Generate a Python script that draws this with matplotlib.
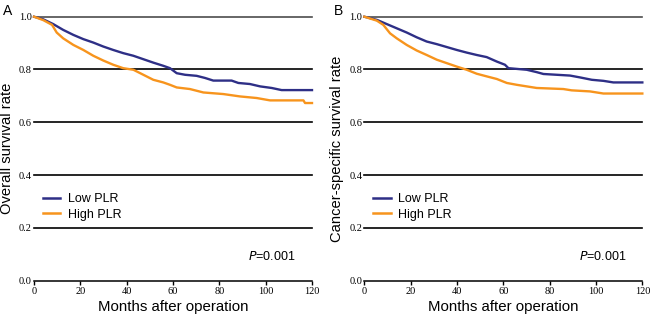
import numpy as np
import matplotlib
matplotlib.use('Agg')
import matplotlib.pyplot as plt

# ---- data (KM curves, months vs survival) ----
A_LOW_T = [0, 4.0, 8.3, 12.6, 17.0, 21.3, 25.6, 29.9, 34.2, 38.5, 42.9, 47.2, 51.5, 55.8,
           58.7, 61.6, 65.2, 70.2, 73.8, 77.4, 85.3, 88.2, 93.2, 97.6, 102.6, 106.9, 120]
A_LOW_S = [1.0, 0.99, 0.972, 0.95, 0.931, 0.915, 0.902, 0.887, 0.874, 0.862, 0.852, 0.839, 0.826, 0.814,
           0.805, 0.786, 0.78, 0.776, 0.768, 0.758, 0.758, 0.749, 0.745, 0.736, 0.73, 0.722, 0.722]
A_HIGH_T = [0, 4.0, 7.8, 9.8, 12.6, 17.0, 21.3, 25.6, 29.9, 34.2, 38.5, 42.9, 47.2, 51.5, 55.8,
            58.7, 61.6, 67.3, 73.1, 81.7, 88.9, 96.1, 101.9, 116.3, 117.0, 120]
A_HIGH_S = [1.0, 0.987, 0.969, 0.94, 0.918, 0.893, 0.874, 0.852, 0.834, 0.818, 0.805, 0.799, 0.78, 0.761, 0.751,
            0.742, 0.732, 0.726, 0.713, 0.707, 0.698, 0.692, 0.683, 0.683, 0.673, 0.673]

B_LOW_T = [0, 5.4, 9.7, 14.0, 18.3, 22.6, 26.9, 31.3, 35.6, 39.9, 44.2, 48.5, 52.8, 57.2,
           60.7, 62.2, 70.1, 74.4, 77.3, 88.8, 93.1, 98.2, 103.2, 107.5, 120]
B_LOW_S = [1.0, 0.988, 0.972, 0.956, 0.94, 0.922, 0.906, 0.896, 0.885, 0.874, 0.864, 0.855, 0.847, 0.83,
           0.818, 0.805, 0.799, 0.79, 0.783, 0.777, 0.77, 0.761, 0.757, 0.751, 0.751]
B_HIGH_T = [0, 5.4, 8.2, 11.1, 14.0, 18.3, 22.6, 26.9, 31.3, 35.6, 39.9, 44.2, 48.5, 52.8, 57.2,
            61.5, 65.8, 70.1, 74.4, 85.9, 89.5, 97.4, 103.2, 120]
B_HIGH_S = [1.0, 0.985, 0.969, 0.937, 0.918, 0.893, 0.872, 0.855, 0.837, 0.824, 0.811, 0.799, 0.784, 0.774, 0.764,
            0.749, 0.742, 0.736, 0.73, 0.726, 0.721, 0.717, 0.709, 0.709]

SERIES = ['Low PLR', 'High PLR']
COLORS = ['#2e2f86', '#f7941d']
X_TICKS = [0, 20, 40, 60, 80, 100, 120]
Y_TICKS = [0.0, 0.2, 0.4, 0.6, 0.8, 1.0]
P_TEXT = '=0.001'

SANS = ['Liberation Sans', 'DejaVu Sans']
SERIF = ['Liberation Serif', 'DejaVu Serif']

fig = plt.figure(figsize=(6.5, 3.21), dpi=100)
ax_a = fig.add_axes([0.0523, 0.1255, 0.4277, 0.8225])
ax_b = fig.add_axes([0.5605, 0.1255, 0.4277, 0.8225])


def draw_panel(ax, curves, ylabel, letter, ylab_x):
    # horizontal reference lines at every y tick
    for yv in Y_TICKS[1:]:
        col = '#4d4d4d' if yv == 1.0 else 'black'
        ax.axhline(yv, color=col, lw=1.2, zorder=1, clip_on=False)
    for (t, s), name, c in zip(curves, SERIES, COLORS):
        ax.plot(t, s, color=c, lw=1.7, label=name, zorder=3, clip_on=False)

    ax.set_xlim(0, 120)
    ax.set_ylim(0, 1.0)
    for side in ['top', 'right', 'left']:
        ax.spines[side].set_visible(False)
    ax.spines['bottom'].set_linewidth(1.1)
    ax.set_xticks(X_TICKS)
    ax.set_yticks(Y_TICKS)
    ax.set_yticklabels([f'{v:.1f}' for v in Y_TICKS], family=SERIF, fontsize=7.5)
    ax.set_xticklabels([str(v) for v in X_TICKS], family=SERIF, fontsize=7.5)
    ax.tick_params(axis='y', length=0, pad=1.5)
    ax.tick_params(axis='x', length=3, width=1.0, pad=1.5)
    ax.set_xlabel('Months after operation', family=SANS, fontsize=10.8, labelpad=3)
    ax.set_ylabel(ylabel, family=SANS, fontsize=10.6)
    ax.yaxis.set_label_coords(ylab_x, 0.5)

    leg = ax.legend(loc='center left', bbox_to_anchor=(0.0, 0.28), frameon=False,
                    prop={'family': SANS, 'size': 9}, handlelength=1.4,
                    handletextpad=0.6, labelspacing=0.3, borderaxespad=0.3)
    for line in leg.get_lines():
        line.set_linewidth(1.8)

    ax.text(113, 0.091, r'$\mathit{P}$' + P_TEXT, family=SANS, fontsize=9,
            ha='right', va='center')
    fig.text(ax.get_position().x0 - 0.047, 0.965, letter, family=SANS, fontsize=10,
             ha='left', va='center')


draw_panel(ax_a, [(A_LOW_T, A_LOW_S), (A_HIGH_T, A_HIGH_S)],
           'Overall survival rate', 'A', -0.072)
draw_panel(ax_b, [(B_LOW_T, B_LOW_S), (B_HIGH_T, B_HIGH_S)],
           'Cancer-specific survival rate', 'B', -0.072)

fig.savefig('out.png', dpi=100)
